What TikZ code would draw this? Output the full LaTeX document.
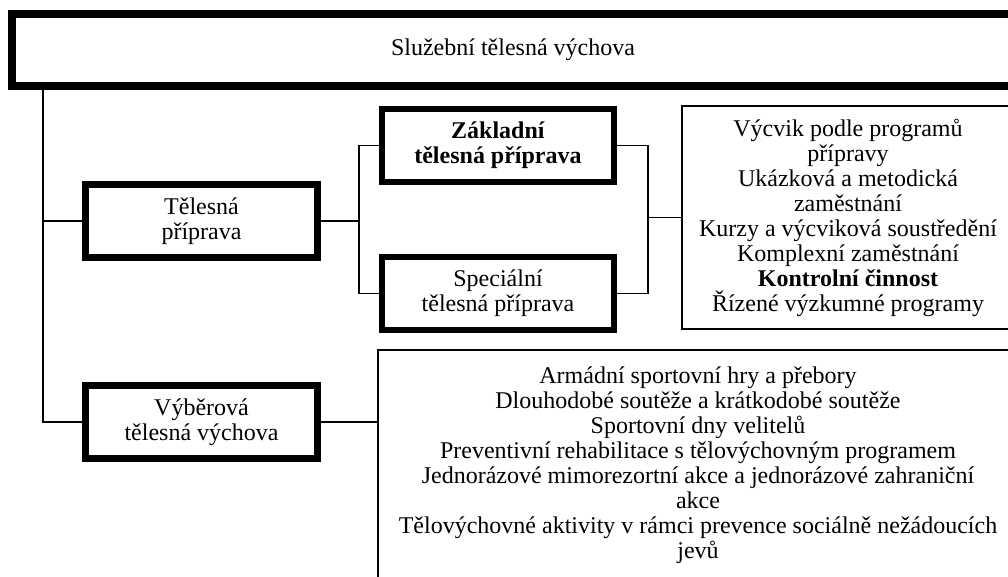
\documentclass[tikz,border=0pt]{standalone}
\usepackage{fontspec}
\setmainfont{Liberation Serif}
\usetikzlibrary{positioning,calc}

\begin{document}
\begin{tikzpicture}[
    x=1pt,y=-1pt,
    font=\fontsize{24}{25}\selectfont,
    headbox/.style={draw,line width=8pt,minimum width=1002pt,minimum height=72pt,inner sep=0pt},
    areabox/.style={draw,line width=6.5pt,minimum width=232pt,minimum height=73pt,align=center,inner sep=0pt},
    listbox/.style={draw,line width=1.3pt,align=center,inner sep=0pt},
    link/.style={line width=1.2pt}
  ]
    \useasboundingbox (0,0) rectangle (1008,577);
    \clip (0,0) rectangle (1008,577);

    \node[headbox] (sluzebni) at (513,50) {Služební tělesná výchova};
    \node[areabox] (telesna) at (201.5,221) {Tělesná\\příprava};
    \node[areabox] (vyberova) at (201.5,422) {Výběrová\\tělesná výchova};
    \node[areabox] (zakladni) at (498,145.5) {\textbf{Základní}\\\textbf{tělesná příprava}};
    \node[areabox] (specialni) at (498,293.5) {Speciální\\tělesná příprava};
    \node[listbox,minimum width=332pt,minimum height=223pt] (pripravaList) at (848,217.5)
      {Výcvik podle programů\\přípravy\\Ukázková a metodická\\zaměstnání\\Kurzy a výcviková soustředění\\Komplexní zaměstnání\\\textbf{Kontrolní činnost}\\Řízené výzkumné programy};
    \node[listbox,minimum width=640pt,minimum height=231pt] (vyberovaList) at (698,465.5)
      {Armádní sportovní hry a přebory\\Dlouhodobé soutěže a krátkodobé soutěže\\Sportovní dny velitelů\\Preventivní rehabilitace s tělovýchovným programem\\Jednorázové mimorezortní akce a jednorázové zahraniční\\akce\\Tělovýchovné aktivity v rámci prevence sociálně nežádoucích\\jevů};

    % spine on the left
    \coordinate (spine) at (43,0);
    \draw[link] (sluzebni.south -| spine) |- (vyberova.west);
    \draw[link] (telesna.west) -- (telesna.west -| spine);

    % fork to the two kinds of preparation
    \coordinate (fork) at (359,0);
    \draw[link] (telesna.east) -- (telesna.east -| fork);
    \draw[link] (zakladni.west) -- (zakladni.west -| fork) -- (specialni.west -| fork) -- (specialni.west);

    % join into the list of forms
    \coordinate (join) at (648,0);
    \draw[link] (zakladni.east) -- (zakladni.east -| join) -- (specialni.east -| join) -- (specialni.east);
    \draw[link] (join |- pripravaList.west) -- (pripravaList.west);

    \draw[link] (vyberova.east) -- (vyberova.east -| vyberovaList.west);
  \end{tikzpicture}
\end{document}
